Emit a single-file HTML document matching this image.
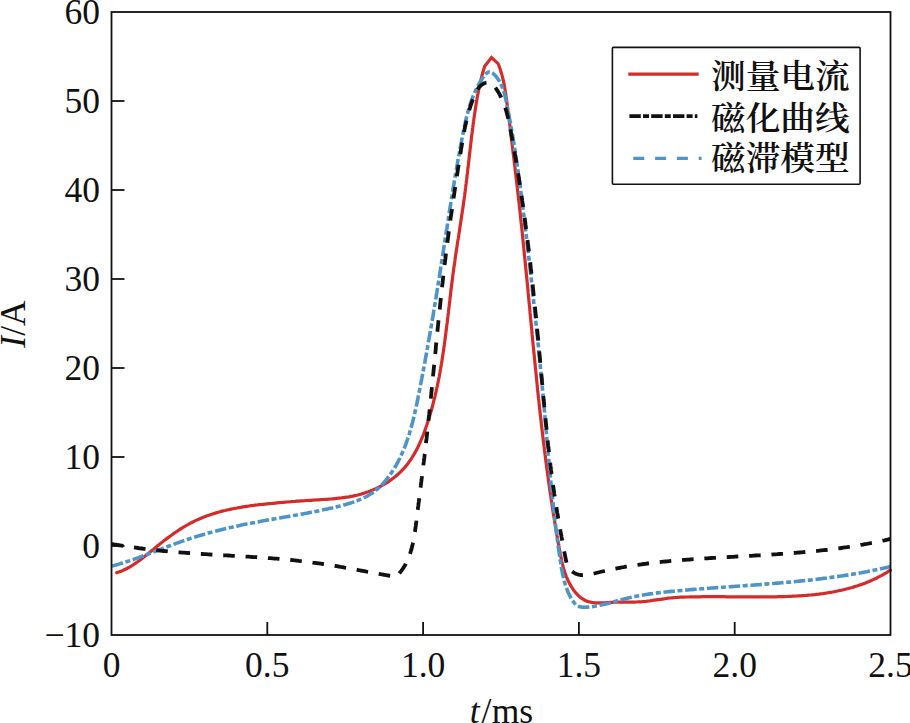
<!DOCTYPE html>
<html><head><meta charset="utf-8"><title>chart</title>
<style>
html,body{margin:0;padding:0;background:#fff;}
body{width:910px;height:723px;overflow:hidden;}
svg{display:block;}
.num{font-family:"Liberation Serif","Noto Serif CJK SC",serif;font-size:35.5px;fill:#111;}
.cjk{font-family:"Liberation Serif","Noto Serif CJK SC",serif;font-size:34.7px;font-weight:600;fill:#111;}
</style></head><body>
<svg width="910" height="723" viewBox="0 0 910 723">
<rect width="910" height="723" fill="#fff"/>
<g fill="none" stroke-linejoin="round">
<path d="M116.7 572.8 L118.6 572.1 L120.5 571.4 L122.4 570.7 L124.2 569.8 L126.0 569.0 L127.8 568.0 L129.5 567.1 L131.2 566.1 L132.9 565.0 L134.6 563.9 L136.2 562.8 L137.8 561.7 L139.5 560.5 L141.1 559.3 L142.6 558.1 L144.2 556.8 L145.8 555.6 L147.4 554.3 L148.9 553.1 L150.5 551.8 L152.0 550.5 L153.6 549.2 L155.1 547.9 L156.7 546.6 L158.3 545.4 L159.8 544.1 L161.4 542.8 L163.0 541.6 L164.6 540.3 L166.2 539.1 L167.8 537.9 L169.4 536.7 L171.1 535.5 L172.7 534.3 L174.3 533.1 L176.0 532.0 L177.7 530.9 L179.3 529.8 L181.0 528.7 L182.7 527.6 L184.4 526.6 L186.1 525.6 L187.9 524.6 L189.6 523.6 L191.4 522.7 L193.2 521.8 L194.9 520.9 L196.7 520.1 L198.6 519.2 L200.4 518.5 L202.2 517.7 L204.1 517.0 L205.9 516.2 L207.8 515.6 L209.7 514.9 L211.6 514.3 L213.5 513.7 L215.4 513.1 L217.3 512.5 L219.2 512.0 L221.2 511.4 L223.1 510.9 L225.1 510.5 L227.0 510.0 L229.0 509.6 L231.0 509.1 L233.0 508.7 L234.9 508.3 L236.9 508.0 L238.9 507.6 L240.9 507.3 L242.9 506.9 L244.9 506.6 L246.9 506.3 L249.0 506.0 L251.0 505.7 L253.0 505.5 L255.0 505.2 L257.0 505.0 L259.0 504.7 L261.0 504.5 L263.1 504.3 L265.1 504.1 L267.1 503.9 L269.1 503.7 L271.1 503.5 L273.1 503.3 L275.1 503.1 L277.1 502.9 L279.1 502.7 L281.1 502.5 L283.1 502.3 L285.1 502.2 L287.1 502.0 L289.1 501.8 L291.1 501.7 L293.1 501.5 L295.1 501.4 L297.0 501.2 L299.0 501.1 L301.0 500.9 L303.0 500.8 L305.0 500.7 L307.0 500.5 L309.0 500.4 L311.0 500.3 L313.0 500.1 L315.0 500.0 L317.0 499.9 L319.0 499.8 L321.0 499.6 L323.0 499.5 L325.0 499.4 L327.0 499.3 L329.0 499.1 L331.0 499.0 L333.0 498.8 L335.0 498.6 L337.0 498.4 L339.0 498.2 L341.0 498.0 L343.0 497.7 L345.0 497.4 L347.0 497.1 L349.0 496.8 L350.9 496.4 L352.9 496.1 L354.9 495.6 L356.8 495.2 L358.8 494.7 L360.7 494.2 L362.7 493.6 L364.6 493.0 L366.5 492.3 L368.4 491.7 L370.3 491.0 L372.2 490.2 L374.1 489.4 L375.9 488.6 L377.7 487.7 L379.6 486.8 L381.3 485.9 L383.1 484.9 L384.8 483.9 L386.6 482.8 L388.2 481.8 L389.9 480.6 L391.5 479.5 L393.1 478.3 L394.7 477.1 L396.2 475.8 L397.7 474.5 L399.2 473.2 L400.6 471.8 L402.0 470.4 L403.4 469.0 L404.7 467.5 L405.9 466.0 L407.2 464.4 L408.4 462.9 L409.5 461.3 L410.7 459.7 L411.8 458.0 L412.8 456.3 L413.9 454.6 L414.8 452.9 L415.8 451.1 L416.8 449.4 L417.7 447.6 L418.6 445.8 L419.4 443.9 L420.2 442.1 L421.1 440.2 L421.8 438.4 L422.6 436.5 L423.4 434.6 L424.1 432.7 L424.8 430.8 L425.5 428.9 L426.1 426.9 L426.8 425.0 L427.4 423.1 L428.1 421.1 L428.7 419.2 L429.3 417.3 L429.9 415.3 L430.4 413.4 L431.0 411.4 L431.6 409.5 L432.1 407.5 L432.6 405.6 L433.1 403.6 L433.6 401.7 L434.1 399.7 L434.6 397.8 L435.1 395.8 L435.5 393.9 L436.0 391.9 L436.4 389.9 L436.9 388.0 L437.3 386.0 L437.7 384.1 L438.1 382.1 L438.5 380.1 L438.9 378.2 L439.3 376.2 L439.6 374.2 L440.0 372.2 L440.3 370.3 L440.7 368.3 L441.0 366.3 L441.4 364.3 L441.7 362.4 L442.0 360.4 L442.3 358.4 L442.6 356.4 L442.9 354.5 L443.2 352.5 L443.5 350.5 L443.8 348.5 L444.1 346.5 L444.4 344.5 L444.6 342.6 L444.9 340.6 L445.2 338.6 L445.4 336.6 L445.7 334.6 L445.9 332.6 L446.2 330.6 L446.4 328.6 L446.7 326.6 L446.9 324.7 L447.2 322.7 L447.4 320.7 L447.6 318.7 L447.9 316.7 L448.1 314.7 L448.4 312.7 L448.6 310.7 L448.8 308.7 L449.1 306.7 L449.3 304.7 L449.5 302.7 L449.8 300.7 L450.0 298.8 L450.2 296.8 L450.5 294.8 L450.7 292.8 L450.9 290.8 L451.2 288.8 L451.4 286.8 L451.7 284.8 L451.9 282.8 L452.2 280.8 L452.4 278.8 L452.7 276.8 L452.9 274.8 L453.2 272.8 L453.5 270.8 L453.7 268.8 L454.0 266.9 L454.3 264.9 L454.6 262.9 L454.9 260.9 L455.1 258.9 L455.4 256.9 L455.7 254.9 L456.0 252.9 L456.3 250.9 L456.6 248.9 L456.9 246.9 L457.2 245.0 L457.5 243.0 L457.8 241.0 L458.2 239.0 L458.5 237.0 L458.8 235.0 L459.1 233.0 L459.4 231.0 L459.7 229.0 L460.0 227.0 L460.3 225.0 L460.6 223.1 L460.9 221.1 L461.2 219.1 L461.5 217.1 L461.8 215.1 L462.1 213.1 L462.4 211.1 L462.7 209.1 L463.0 207.1 L463.3 205.1 L463.6 203.1 L463.8 201.2 L464.1 199.2 L464.4 197.2 L464.7 195.2 L464.9 193.2 L465.2 191.2 L465.4 189.2 L465.7 187.2 L465.9 185.2 L466.2 183.2 L466.4 181.2 L466.7 179.2 L466.9 177.2 L467.1 175.2 L467.4 173.2 L467.6 171.3 L467.8 169.3 L468.1 167.3 L468.3 165.3 L468.5 163.3 L468.8 161.3 L469.0 159.3 L469.2 157.3 L469.4 155.3 L469.7 153.3 L469.9 151.3 L470.1 149.3 L470.4 147.3 L470.6 145.3 L470.8 143.3 L471.1 141.3 L471.3 139.3 L471.5 137.3 L471.8 135.3 L472.0 133.4 L472.3 131.4 L472.5 129.4 L472.8 127.4 L473.0 125.4 L473.3 123.4 L473.6 121.4 L473.8 119.4 L474.1 117.4 L474.4 115.4 L474.7 113.4 L475.0 111.4 L475.3 109.4 L475.6 107.5 L475.9 105.5 L476.2 103.5 L476.5 101.5 L476.9 99.5 L477.2 97.5 L477.6 95.5 L478.0 93.6 L478.3 91.6 L478.7 89.6 L479.1 87.7 L479.6 85.7 L480.0 83.7 L480.5 81.8 L480.9 79.8 L481.4 77.9 L481.9 75.9 L482.4 74.0 L483.0 72.1 L483.5 70.1 L484.1 68.2 L484.7 66.3 L491.5 57.6 L498.1 63.6 L498.9 65.5 L499.6 67.4 L500.2 69.3 L500.8 71.2 L501.4 73.2 L502.0 75.1 L502.5 77.0 L502.9 79.0 L503.4 80.9 L503.8 82.9 L504.2 84.9 L504.6 86.8 L504.9 88.8 L505.2 90.8 L505.5 92.8 L505.8 94.7 L506.1 96.7 L506.4 98.7 L506.7 100.7 L506.9 102.7 L507.2 104.7 L507.4 106.7 L507.7 108.7 L507.9 110.7 L508.2 112.7 L508.4 114.6 L508.7 116.6 L508.9 118.6 L509.2 120.6 L509.5 122.6 L509.7 124.6 L510.0 126.6 L510.2 128.6 L510.4 130.6 L510.7 132.6 L510.9 134.6 L511.2 136.6 L511.4 138.6 L511.7 140.6 L511.9 142.5 L512.2 144.5 L512.4 146.5 L512.7 148.5 L512.9 150.5 L513.1 152.5 L513.4 154.5 L513.6 156.5 L513.9 158.5 L514.1 160.5 L514.3 162.5 L514.6 164.5 L514.8 166.5 L515.1 168.5 L515.3 170.5 L515.5 172.5 L515.8 174.5 L516.0 176.5 L516.2 178.5 L516.5 180.4 L516.7 182.4 L516.9 184.4 L517.2 186.4 L517.4 188.4 L517.6 190.4 L517.8 192.4 L518.1 194.4 L518.3 196.4 L518.5 198.4 L518.7 200.4 L519.0 202.4 L519.2 204.4 L519.4 206.4 L519.6 208.4 L519.9 210.4 L520.1 212.4 L520.3 214.4 L520.5 216.4 L520.7 218.4 L520.9 220.4 L521.1 222.4 L521.4 224.4 L521.6 226.4 L521.8 228.4 L522.0 230.4 L522.2 232.4 L522.4 234.4 L522.6 236.4 L522.8 238.4 L523.0 240.4 L523.2 242.4 L523.4 244.4 L523.6 246.4 L523.8 248.4 L524.0 250.4 L524.2 252.4 L524.4 254.4 L524.6 256.4 L524.8 258.4 L525.0 260.4 L525.2 262.4 L525.4 264.4 L525.6 266.4 L525.8 268.4 L526.0 270.4 L526.2 272.4 L526.4 274.4 L526.6 276.4 L526.8 278.4 L527.0 280.4 L527.2 282.4 L527.4 284.4 L527.6 286.4 L527.8 288.4 L528.0 290.4 L528.1 292.4 L528.3 294.4 L528.5 296.4 L528.7 298.4 L528.9 300.4 L529.1 302.4 L529.3 304.4 L529.5 306.4 L529.7 308.4 L529.9 310.4 L530.0 312.4 L530.2 314.4 L530.4 316.4 L530.6 318.4 L530.8 320.4 L531.0 322.4 L531.2 324.4 L531.4 326.4 L531.6 328.4 L531.8 330.4 L532.0 332.4 L532.1 334.4 L532.3 336.4 L532.5 338.4 L532.7 340.4 L532.9 342.4 L533.1 344.4 L533.3 346.4 L533.5 348.4 L533.7 350.4 L533.9 352.4 L534.1 354.4 L534.3 356.4 L534.5 358.4 L534.7 360.4 L534.9 362.4 L535.1 364.4 L535.3 366.4 L535.5 368.4 L535.7 370.4 L535.9 372.4 L536.1 374.4 L536.3 376.4 L536.5 378.4 L536.7 380.4 L536.9 382.4 L537.1 384.4 L537.3 386.4 L537.5 388.4 L537.7 390.4 L537.9 392.4 L538.1 394.4 L538.3 396.4 L538.5 398.4 L538.8 400.4 L539.0 402.3 L539.2 404.3 L539.4 406.3 L539.6 408.3 L539.8 410.3 L540.1 412.3 L540.3 414.3 L540.5 416.3 L540.7 418.3 L541.0 420.3 L541.2 422.3 L541.4 424.3 L541.6 426.3 L541.9 428.3 L542.1 430.3 L542.3 432.3 L542.6 434.3 L542.8 436.3 L543.0 438.3 L543.3 440.3 L543.5 442.3 L543.8 444.3 L544.0 446.2 L544.3 448.2 L544.5 450.2 L544.8 452.2 L545.0 454.2 L545.3 456.2 L545.5 458.2 L545.8 460.2 L546.0 462.2 L546.3 464.2 L546.5 466.2 L546.8 468.2 L547.1 470.2 L547.3 472.1 L547.6 474.1 L547.9 476.1 L548.2 478.1 L548.4 480.1 L548.7 482.1 L549.0 484.1 L549.3 486.1 L549.5 488.1 L549.8 490.1 L550.1 492.0 L550.4 494.0 L550.7 496.0 L551.0 498.0 L551.3 500.0 L551.6 502.0 L551.9 504.0 L552.2 506.0 L552.5 507.9 L552.8 509.9 L553.1 511.9 L553.4 513.9 L553.7 515.9 L554.1 517.9 L554.4 519.8 L554.7 521.8 L555.0 523.8 L555.4 525.8 L555.7 527.8 L556.0 529.8 L556.4 531.7 L556.7 533.7 L557.0 535.7 L557.4 537.7 L557.7 539.7 L558.1 541.7 L558.4 543.6 L558.8 545.6 L559.1 547.6 L559.5 549.6 L559.9 551.6 L560.2 553.5 L560.6 555.5 L561.0 557.5 L561.4 559.5 L561.8 561.4 L562.3 563.4 L562.8 565.3 L563.3 567.3 L563.8 569.2 L564.4 571.1 L565.0 573.0 L565.7 574.9 L566.4 576.8 L567.2 578.7 L568.0 580.5 L568.9 582.3 L569.9 584.1 L570.9 585.9 L572.0 587.7 L573.1 589.4 L574.3 591.1 L575.6 592.7 L577.0 594.2 L578.4 595.6 L579.9 597.0 L581.4 598.2 L583.0 599.2 L584.7 600.2 L586.4 600.9 L588.2 601.6 L590.0 602.0 L591.9 602.4 L593.9 602.7 L595.8 602.8 L597.8 602.9 L599.9 602.9 L601.9 602.9 L604.0 602.8 L606.0 602.7 L608.1 602.5 L610.2 602.4 L612.2 602.3 L614.3 602.2 L616.3 602.1 L618.4 602.1 L620.4 602.1 L622.4 602.1 L624.4 602.1 L626.4 602.1 L628.4 602.1 L630.4 602.1 L632.4 602.1 L634.3 602.1 L636.3 602.0 L638.3 601.9 L640.3 601.8 L642.3 601.7 L644.2 601.5 L646.2 601.3 L648.2 601.0 L650.2 600.8 L652.2 600.5 L654.2 600.2 L656.2 599.9 L658.2 599.6 L660.2 599.3 L662.2 599.1 L664.2 598.8 L666.2 598.5 L668.2 598.2 L670.2 598.0 L672.2 597.8 L674.2 597.6 L676.2 597.5 L678.2 597.3 L680.2 597.2 L682.2 597.1 L684.2 597.1 L686.2 597.0 L688.2 597.0 L690.2 596.9 L692.2 596.9 L694.2 596.8 L696.2 596.8 L698.2 596.8 L700.2 596.8 L702.2 596.7 L704.2 596.7 L706.2 596.7 L708.3 596.7 L710.3 596.7 L712.3 596.7 L714.3 596.7 L716.3 596.7 L718.3 596.7 L720.3 596.7 L722.3 596.7 L724.3 596.7 L726.4 596.8 L728.4 596.8 L730.4 596.8 L732.4 596.8 L734.4 596.8 L736.4 596.8 L738.4 596.8 L740.4 596.9 L742.4 596.9 L744.4 596.9 L746.4 596.9 L748.5 596.9 L750.5 596.9 L752.5 596.9 L754.5 596.9 L756.5 596.9 L758.5 596.9 L760.5 596.9 L762.5 596.9 L764.5 596.9 L766.5 596.9 L768.5 596.9 L770.5 596.9 L772.5 596.9 L774.5 596.8 L776.5 596.8 L778.5 596.7 L780.5 596.7 L782.5 596.6 L784.5 596.6 L786.5 596.5 L788.5 596.4 L790.5 596.3 L792.5 596.2 L794.6 596.1 L796.6 596.0 L798.6 595.9 L800.6 595.8 L802.6 595.6 L804.6 595.5 L806.6 595.3 L808.6 595.1 L810.6 595.0 L812.6 594.8 L814.6 594.6 L816.6 594.3 L818.7 594.1 L820.7 593.8 L822.6 593.6 L824.6 593.3 L826.6 593.0 L828.6 592.7 L830.6 592.3 L832.6 592.0 L834.6 591.6 L836.5 591.2 L838.5 590.8 L840.5 590.4 L842.4 590.0 L844.4 589.5 L846.3 589.0 L848.3 588.5 L850.2 588.0 L852.1 587.5 L854.0 586.9 L855.9 586.3 L857.8 585.7 L859.7 585.0 L861.6 584.4 L863.5 583.7 L865.4 583.0 L867.2 582.2 L869.1 581.5 L870.9 580.7 L872.7 579.9 L874.6 579.0 L876.4 578.2 L878.2 577.2 L879.9 576.3 L881.7 575.4 L883.5 574.4 L885.2 573.3 L887.0 572.3 L888.7 571.2 L890.4 570.1" stroke="#d62b2b" stroke-width="3.2" stroke-linecap="round" stroke-linejoin="miter"/>
<path d="M111.9 566.1 L113.8 565.6 L115.8 565.0 L117.7 564.5 L119.6 563.9 L121.6 563.3 L123.5 562.7 L125.4 562.1 L127.3 561.5 L129.2 560.9 L131.1 560.2 L133.0 559.6 L134.9 558.9 L136.8 558.2 L138.7 557.6 L140.5 556.9 L142.4 556.2 L144.3 555.5 L146.2 554.8 L148.0 554.1 L149.9 553.4 L151.8 552.7 L153.6 551.9 L155.5 551.2 L157.4 550.5 L159.2 549.8 L161.1 549.1 L163.0 548.4 L164.8 547.6 L166.7 546.9 L168.6 546.2 L170.5 545.5 L172.3 544.8 L174.2 544.1 L176.1 543.4 L178.0 542.8 L179.8 542.1 L181.7 541.4 L183.6 540.8 L185.5 540.1 L187.4 539.5 L189.3 538.8 L191.2 538.2 L193.1 537.6 L195.1 537.0 L197.0 536.4 L198.9 535.8 L200.8 535.3 L202.7 534.7 L204.7 534.1 L206.6 533.6 L208.5 533.0 L210.5 532.5 L212.4 532.0 L214.4 531.5 L216.3 531.0 L218.2 530.5 L220.2 530.0 L222.1 529.5 L224.1 529.0 L226.1 528.6 L228.0 528.1 L230.0 527.6 L231.9 527.2 L233.9 526.7 L235.8 526.3 L237.8 525.9 L239.8 525.5 L241.7 525.0 L243.7 524.6 L245.7 524.2 L247.6 523.8 L249.6 523.4 L251.5 523.1 L253.5 522.7 L255.5 522.3 L257.4 521.9 L259.4 521.6 L261.4 521.2 L263.3 520.8 L265.3 520.5 L267.2 520.1 L269.2 519.8 L271.2 519.4 L273.1 519.1 L275.1 518.8 L277.1 518.4 L279.0 518.1 L281.0 517.7 L282.9 517.4 L284.9 517.0 L286.9 516.7 L288.8 516.4 L290.8 516.0 L292.8 515.7 L294.7 515.3 L296.7 515.0 L298.6 514.6 L300.6 514.3 L302.6 513.9 L304.5 513.5 L306.5 513.2 L308.5 512.8 L310.4 512.4 L312.4 512.0 L314.4 511.7 L316.3 511.3 L318.3 510.9 L320.3 510.5 L322.2 510.0 L324.2 509.6 L326.2 509.2 L328.1 508.8 L330.1 508.3 L332.1 507.9 L334.1 507.4 L336.0 506.9 L338.0 506.4 L340.0 505.9 L341.9 505.4 L343.9 504.9 L345.9 504.4 L347.8 503.8 L349.8 503.2 L351.7 502.6 L353.6 502.0 L355.5 501.3 L357.4 500.6 L359.2 499.8 L361.1 499.1 L362.9 498.3 L364.7 497.4 L366.4 496.5 L368.1 495.5 L369.8 494.5 L371.5 493.5 L373.1 492.4 L374.7 491.2 L376.3 490.0 L377.8 488.7 L379.2 487.4 L380.7 486.0 L382.1 484.6 L383.4 483.1 L384.7 481.6 L386.0 480.1 L387.3 478.5 L388.5 476.9 L389.7 475.3 L390.9 473.6 L392.0 471.9 L393.1 470.3 L394.1 468.6 L395.2 466.8 L396.2 465.1 L397.1 463.4 L398.1 461.6 L399.0 459.8 L399.9 458.0 L400.7 456.2 L401.6 454.4 L402.4 452.6 L403.2 450.8 L403.9 449.0 L404.7 447.1 L405.4 445.3 L406.1 443.4 L406.7 441.5 L407.4 439.6 L408.0 437.8 L408.7 435.9 L409.3 434.0 L409.8 432.0 L410.4 430.1 L411.0 428.2 L411.5 426.3 L412.0 424.3 L412.5 422.4 L413.0 420.5 L413.5 418.5 L414.0 416.6 L414.4 414.6 L414.9 412.6 L415.3 410.7 L415.8 408.7 L416.2 406.7 L416.6 404.8 L417.0 402.8 L417.4 400.8 L417.8 398.8 L418.2 396.9 L418.6 394.9 L419.0 392.9 L419.4 390.9 L419.8 388.9 L420.1 387.0 L420.5 385.0 L420.9 383.0 L421.3 381.0 L421.7 379.1 L422.0 377.1 L422.4 375.1 L422.8 373.1 L423.2 371.2 L423.5 369.2 L423.9 367.2 L424.3 365.2 L424.6 363.3 L425.0 361.3 L425.3 359.3 L425.7 357.4 L426.1 355.4 L426.4 353.4 L426.8 351.4 L427.1 349.5 L427.5 347.5 L427.8 345.5 L428.2 343.6 L428.5 341.6 L428.9 339.6 L429.2 337.6 L429.6 335.7 L429.9 333.7 L430.3 331.7 L430.6 329.8 L430.9 327.8 L431.3 325.8 L431.6 323.8 L431.9 321.9 L432.3 319.9 L432.6 317.9 L433.0 316.0 L433.3 314.0 L433.6 312.0 L433.9 310.0 L434.3 308.1 L434.6 306.1 L434.9 304.1 L435.2 302.2 L435.6 300.2 L435.9 298.2 L436.2 296.2 L436.5 294.3 L436.9 292.3 L437.2 290.3 L437.5 288.3 L437.8 286.4 L438.1 284.4 L438.4 282.4 L438.8 280.4 L439.1 278.5 L439.4 276.5 L439.7 274.5 L440.0 272.5 L440.3 270.6 L440.6 268.6 L440.9 266.6 L441.3 264.6 L441.6 262.6 L441.9 260.7 L442.2 258.7 L442.5 256.7 L442.8 254.7 L443.1 252.7 L443.4 250.8 L443.7 248.8 L444.0 246.8 L444.3 244.8 L444.6 242.8 L444.9 240.9 L445.2 238.9 L445.5 236.9 L445.8 234.9 L446.1 232.9 L446.4 230.9 L446.8 229.0 L447.1 227.0 L447.4 225.0 L447.7 223.0 L448.0 221.0 L448.3 219.1 L448.6 217.1 L448.9 215.1 L449.2 213.1 L449.5 211.1 L449.8 209.1 L450.2 207.2 L450.5 205.2 L450.8 203.2 L451.1 201.2 L451.4 199.2 L451.7 197.3 L452.1 195.3 L452.4 193.3 L452.7 191.3 L453.0 189.3 L453.3 187.4 L453.7 185.4 L454.0 183.4 L454.3 181.4 L454.7 179.4 L455.0 177.5 L455.3 175.5 L455.7 173.5 L456.0 171.5 L456.4 169.6 L456.7 167.6 L457.0 165.6 L457.4 163.6 L457.7 161.7 L458.1 159.7 L458.4 157.7 L458.8 155.7 L459.2 153.8 L459.5 151.8 L459.9 149.8 L460.2 147.9 L460.6 145.9 L461.0 143.9 L461.4 142.0 L461.7 140.0 L462.1 138.0 L462.5 136.1 L462.9 134.1 L463.3 132.1 L463.7 130.2 L464.1 128.2 L464.5 126.3 L464.9 124.3 L465.3 122.3 L465.8 120.4 L466.2 118.5 L466.7 116.5 L467.2 114.6 L467.7 112.7 L468.2 110.7 L468.8 108.8 L469.4 106.9 L470.0 105.0 L470.6 103.1 L471.2 101.2 L471.9 99.3 L472.6 97.4 L473.4 95.6 L474.2 93.7 L475.0 91.9 L475.8 90.0 L476.7 88.2 L477.7 86.4 L478.6 84.6 L479.6 82.8 L480.7 81.0 L481.8 79.3 L483.0 77.5 L484.2 75.8 L485.4 74.3 L486.7 73.1 L488.1 72.3 L489.5 72.0 L491.0 72.3 L492.5 73.1 L494.0 74.3 L495.5 75.8 L496.9 77.5 L498.1 79.3 L499.3 81.1 L500.3 82.9 L501.2 84.8 L502.0 86.6 L502.8 88.5 L503.4 90.4 L504.0 92.4 L504.6 94.3 L505.1 96.2 L505.5 98.2 L506.0 100.1 L506.4 102.1 L506.8 104.1 L507.2 106.0 L507.5 108.0 L507.9 110.0 L508.3 111.9 L508.7 113.9 L509.1 115.9 L509.4 117.8 L509.8 119.8 L510.2 121.8 L510.5 123.7 L510.9 125.7 L511.2 127.7 L511.6 129.7 L511.9 131.6 L512.2 133.6 L512.6 135.6 L512.9 137.5 L513.2 139.5 L513.6 141.5 L513.9 143.5 L514.2 145.5 L514.5 147.4 L514.8 149.4 L515.1 151.4 L515.4 153.4 L515.7 155.3 L516.0 157.3 L516.3 159.3 L516.6 161.3 L516.9 163.3 L517.2 165.3 L517.5 167.2 L517.8 169.2 L518.1 171.2 L518.3 173.2 L518.6 175.2 L518.9 177.2 L519.2 179.1 L519.4 181.1 L519.7 183.1 L520.0 185.1 L520.2 187.1 L520.5 189.1 L520.7 191.1 L521.0 193.0 L521.3 195.0 L521.5 197.0 L521.8 199.0 L522.0 201.0 L522.3 203.0 L522.5 205.0 L522.8 207.0 L523.0 209.0 L523.3 210.9 L523.5 212.9 L523.8 214.9 L524.0 216.9 L524.2 218.9 L524.5 220.9 L524.7 222.9 L525.0 224.9 L525.2 226.9 L525.4 228.8 L525.7 230.8 L525.9 232.8 L526.2 234.8 L526.4 236.8 L526.6 238.8 L526.9 240.8 L527.1 242.8 L527.3 244.8 L527.6 246.8 L527.8 248.8 L528.0 250.7 L528.3 252.7 L528.5 254.7 L528.7 256.7 L529.0 258.7 L529.2 260.7 L529.4 262.7 L529.6 264.7 L529.9 266.7 L530.1 268.7 L530.3 270.7 L530.5 272.6 L530.8 274.6 L531.0 276.6 L531.2 278.6 L531.4 280.6 L531.7 282.6 L531.9 284.6 L532.1 286.6 L532.3 288.6 L532.5 290.6 L532.8 292.6 L533.0 294.6 L533.2 296.5 L533.4 298.5 L533.6 300.5 L533.8 302.5 L534.0 304.5 L534.3 306.5 L534.5 308.5 L534.7 310.5 L534.9 312.5 L535.1 314.5 L535.3 316.5 L535.5 318.5 L535.7 320.5 L535.9 322.5 L536.2 324.4 L536.4 326.4 L536.6 328.4 L536.8 330.4 L537.0 332.4 L537.2 334.4 L537.4 336.4 L537.6 338.4 L537.8 340.4 L538.0 342.4 L538.2 344.4 L538.4 346.4 L538.6 348.4 L538.8 350.4 L539.0 352.4 L539.2 354.4 L539.4 356.4 L539.6 358.3 L539.8 360.3 L540.0 362.3 L540.2 364.3 L540.3 366.3 L540.5 368.3 L540.7 370.3 L540.9 372.3 L541.1 374.3 L541.3 376.3 L541.5 378.3 L541.7 380.3 L541.9 382.3 L542.0 384.3 L542.2 386.3 L542.4 388.3 L542.6 390.3 L542.8 392.3 L543.0 394.3 L543.1 396.3 L543.3 398.3 L543.5 400.3 L543.7 402.2 L543.9 404.2 L544.0 406.2 L544.2 408.2 L544.4 410.2 L544.6 412.2 L544.7 414.2 L544.9 416.2 L545.1 418.2 L545.3 420.2 L545.4 422.2 L545.6 424.2 L545.8 426.2 L546.0 428.2 L546.1 430.2 L546.3 432.2 L546.5 434.2 L546.7 436.2 L546.8 438.2 L547.0 440.2 L547.2 442.2 L547.4 444.2 L547.5 446.2 L547.7 448.2 L547.9 450.2 L548.1 452.2 L548.2 454.2 L548.4 456.2 L548.6 458.2 L548.8 460.2 L549.0 462.1 L549.1 464.1 L549.3 466.1 L549.5 468.1 L549.7 470.1 L549.9 472.1 L550.1 474.1 L550.3 476.1 L550.5 478.1 L550.7 480.1 L550.8 482.1 L551.0 484.1 L551.2 486.1 L551.4 488.1 L551.6 490.1 L551.8 492.1 L552.0 494.1 L552.3 496.1 L552.5 498.0 L552.7 500.0 L552.9 502.0 L553.1 504.0 L553.3 506.0 L553.5 508.0 L553.8 510.0 L554.0 512.0 L554.2 514.0 L554.4 516.0 L554.7 518.0 L554.9 519.9 L555.1 521.9 L555.4 523.9 L555.6 525.9 L555.8 527.9 L556.1 529.9 L556.3 531.9 L556.6 533.9 L556.9 535.8 L557.1 537.8 L557.4 539.8 L557.6 541.8 L557.9 543.8 L558.2 545.8 L558.4 547.8 L558.7 549.7 L559.0 551.7 L559.3 553.7 L559.6 555.7 L559.9 557.7 L560.2 559.7 L560.5 561.6 L560.8 563.6 L561.1 565.6 L561.4 567.6 L561.8 569.6 L562.1 571.5 L562.5 573.5 L562.9 575.4 L563.4 577.4 L563.8 579.3 L564.3 581.3 L564.9 583.2 L565.5 585.1 L566.1 587.0 L566.8 588.9 L567.5 590.8 L568.3 592.7 L569.2 594.6 L570.1 596.4 L571.1 598.3 L572.1 600.0 L573.3 601.7 L574.5 603.2 L575.9 604.5 L577.4 605.6 L579.0 606.4 L580.9 606.9 L582.8 607.2 L584.8 607.2 L586.8 607.1 L588.9 607.0 L590.9 606.7 L593.0 606.5 L595.0 606.2 L597.0 605.8 L599.0 605.5 L601.0 605.0 L603.0 604.6 L604.9 604.2 L606.9 603.7 L608.8 603.2 L610.8 602.7 L612.7 602.2 L614.7 601.6 L616.6 601.1 L618.5 600.6 L620.4 600.1 L622.4 599.5 L624.3 599.0 L626.2 598.5 L628.2 598.0 L630.1 597.6 L632.0 597.1 L634.0 596.7 L635.9 596.3 L637.9 595.9 L639.9 595.6 L641.8 595.2 L643.8 594.9 L645.8 594.5 L647.7 594.2 L649.7 593.9 L651.7 593.7 L653.7 593.4 L655.7 593.1 L657.7 592.9 L659.6 592.7 L661.6 592.4 L663.6 592.2 L665.6 592.0 L667.6 591.8 L669.6 591.6 L671.6 591.4 L673.6 591.2 L675.6 591.0 L677.6 590.8 L679.6 590.7 L681.6 590.5 L683.6 590.3 L685.6 590.1 L687.6 590.0 L689.6 589.8 L691.6 589.6 L693.6 589.4 L695.6 589.3 L697.6 589.1 L699.6 589.0 L701.6 588.8 L703.6 588.7 L705.6 588.5 L707.6 588.3 L709.6 588.2 L711.6 588.0 L713.6 587.9 L715.6 587.7 L717.6 587.6 L719.6 587.5 L721.6 587.3 L723.6 587.2 L725.6 587.0 L727.6 586.9 L729.6 586.7 L731.6 586.6 L733.6 586.5 L735.6 586.3 L737.6 586.2 L739.6 586.0 L741.6 585.9 L743.6 585.7 L745.6 585.6 L747.6 585.4 L749.6 585.3 L751.6 585.2 L753.6 585.0 L755.6 584.9 L757.6 584.7 L759.6 584.6 L761.6 584.4 L763.6 584.3 L765.6 584.1 L767.6 583.9 L769.6 583.8 L771.6 583.6 L773.6 583.5 L775.6 583.3 L777.5 583.1 L779.5 583.0 L781.5 582.8 L783.5 582.6 L785.5 582.4 L787.5 582.3 L789.5 582.1 L791.5 581.9 L793.5 581.7 L795.5 581.5 L797.5 581.3 L799.5 581.1 L801.5 580.9 L803.5 580.7 L805.4 580.5 L807.4 580.3 L809.4 580.1 L811.4 579.9 L813.4 579.6 L815.4 579.4 L817.4 579.2 L819.4 578.9 L821.3 578.7 L823.3 578.4 L825.3 578.2 L827.3 577.9 L829.3 577.7 L831.3 577.4 L833.2 577.1 L835.2 576.9 L837.2 576.6 L839.2 576.3 L841.2 576.0 L843.1 575.7 L845.1 575.4 L847.1 575.1 L849.1 574.8 L851.1 574.5 L853.0 574.1 L855.0 573.8 L857.0 573.5 L858.9 573.1 L860.9 572.8 L862.9 572.4 L864.9 572.0 L866.8 571.7 L868.8 571.3 L870.8 570.9 L872.7 570.5 L874.7 570.1 L876.7 569.7 L878.6 569.3 L880.6 568.8 L882.6 568.4 L884.5 568.0 L886.5 567.5 L888.4 567.1 L890.4 566.6" stroke="#4d95c9" stroke-width="3.6" stroke-dasharray="11.5 2.6 5 2.7" stroke-linecap="butt"/>
<path d="M111.9 543.9 L113.9 544.3 L115.9 544.6 L117.9 545.0 L119.9 545.3 L121.9 545.6 L123.9 545.9 L125.9 546.3 L127.8 546.6 L129.8 546.9 L131.8 547.2 L133.8 547.4 L135.8 547.7 L137.8 548.0 L139.8 548.3 L141.8 548.5 L143.8 548.8 L145.8 549.0 L147.8 549.3 L149.8 549.5 L151.8 549.7 L153.8 550.0 L155.9 550.2 L157.9 550.4 L159.9 550.6 L161.9 550.8 L163.9 551.0 L165.9 551.2 L167.9 551.4 L169.9 551.6 L171.9 551.7 L173.9 551.9 L175.9 552.1 L177.9 552.3 L179.9 552.4 L182.0 552.6 L184.0 552.7 L186.0 552.9 L188.0 553.0 L190.0 553.2 L192.0 553.3 L194.0 553.5 L196.0 553.6 L198.1 553.7 L200.1 553.9 L202.1 554.0 L204.1 554.1 L206.1 554.2 L208.1 554.4 L210.1 554.5 L212.2 554.6 L214.2 554.7 L216.2 554.8 L218.2 554.9 L220.2 555.1 L222.2 555.2 L224.3 555.3 L226.3 555.4 L228.3 555.5 L230.3 555.6 L232.3 555.8 L234.3 555.9 L236.4 556.0 L238.4 556.1 L240.4 556.2 L242.4 556.3 L244.4 556.5 L246.4 556.6 L248.5 556.7 L250.5 556.8 L252.5 557.0 L254.5 557.1 L256.5 557.2 L258.5 557.4 L260.6 557.5 L262.6 557.7 L264.6 557.8 L266.6 557.9 L268.6 558.1 L270.6 558.2 L272.6 558.4 L274.6 558.6 L276.7 558.7 L278.7 558.9 L280.7 559.1 L282.7 559.3 L284.7 559.4 L286.7 559.6 L288.7 559.8 L290.7 560.0 L292.7 560.2 L294.7 560.4 L296.7 560.6 L298.7 560.9 L300.7 561.1 L302.8 561.3 L304.8 561.6 L306.8 561.8 L308.8 562.1 L310.8 562.3 L312.8 562.6 L314.8 562.8 L316.8 563.1 L318.7 563.4 L320.7 563.7 L322.7 564.0 L324.7 564.3 L326.7 564.6 L328.7 564.9 L330.7 565.2 L332.7 565.5 L334.7 565.9 L336.7 566.2 L338.7 566.5 L340.7 566.9 L342.6 567.2 L344.6 567.6 L346.6 567.9 L348.6 568.3 L350.6 568.6 L352.6 569.0 L354.6 569.4 L356.5 569.7 L358.5 570.1 L360.5 570.5 L362.5 570.8 L364.5 571.2 L366.5 571.6 L368.5 571.9 L370.4 572.3 L372.4 572.7 L374.4 573.0 L376.4 573.4 L378.4 573.8 L380.4 574.1 L382.4 574.5 L384.4 574.8 L386.3 575.2 L388.3 575.5 L390.3 575.8 L392.3 576.2 L394.3 576.5 L396.3 576.8 L397.7 575.3 L399.1 573.8 L400.3 572.2 L401.5 570.6 L402.6 569.0 L403.7 567.4 L404.7 565.7 L405.7 564.0 L406.5 562.2 L407.4 560.5 L408.2 558.7 L408.9 556.9 L409.6 555.1 L410.2 553.2 L410.8 551.3 L411.4 549.4 L411.9 547.5 L412.4 545.6 L412.8 543.7 L413.2 541.7 L413.6 539.8 L414.0 537.8 L414.3 535.8 L414.7 533.8 L415.0 531.8 L415.2 529.8 L415.5 527.8 L415.8 525.8 L416.0 523.8 L416.3 521.8 L416.5 519.7 L416.8 517.7 L417.0 515.7 L417.3 513.7 L417.5 511.7 L417.8 509.7 L418.0 507.7 L418.3 505.7 L418.5 503.7 L418.8 501.7 L419.0 499.7 L419.3 497.7 L419.5 495.7 L419.8 493.7 L420.0 491.7 L420.3 489.7 L420.5 487.7 L420.8 485.8 L421.0 483.8 L421.3 481.8 L421.5 479.8 L421.8 477.8 L422.0 475.8 L422.3 473.9 L422.5 471.9 L422.8 469.9 L423.0 467.9 L423.3 465.9 L423.5 463.9 L423.8 462.0 L424.0 460.0 L424.3 458.0 L424.5 456.0 L424.7 454.0 L425.0 452.1 L425.2 450.1 L425.4 448.1 L425.7 446.1 L425.9 444.1 L426.1 442.1 L426.3 440.1 L426.6 438.2 L426.8 436.2 L427.0 434.2 L427.2 432.2 L427.4 430.2 L427.7 428.2 L427.9 426.2 L428.1 424.2 L428.3 422.2 L428.5 420.3 L428.7 418.3 L428.9 416.3 L429.2 414.3 L429.4 412.3 L429.6 410.3 L429.8 408.3 L430.0 406.3 L430.2 404.3 L430.4 402.3 L430.6 400.4 L430.8 398.4 L431.0 396.4 L431.2 394.4 L431.4 392.4 L431.6 390.4 L431.8 388.4 L432.0 386.4 L432.2 384.4 L432.4 382.4 L432.6 380.4 L432.8 378.4 L433.0 376.4 L433.2 374.4 L433.4 372.4 L433.6 370.5 L433.8 368.5 L434.0 366.5 L434.2 364.5 L434.4 362.5 L434.6 360.5 L434.8 358.5 L435.0 356.5 L435.2 354.5 L435.4 352.5 L435.6 350.5 L435.8 348.5 L435.9 346.5 L436.1 344.5 L436.3 342.5 L436.5 340.5 L436.7 338.5 L436.9 336.5 L437.1 334.5 L437.3 332.5 L437.5 330.5 L437.7 328.5 L437.9 326.6 L438.1 324.6 L438.3 322.6 L438.5 320.6 L438.7 318.6 L439.0 316.6 L439.2 314.6 L439.4 312.6 L439.6 310.6 L439.8 308.6 L440.0 306.6 L440.2 304.6 L440.4 302.6 L440.6 300.6 L440.8 298.6 L441.0 296.6 L441.3 294.6 L441.5 292.6 L441.7 290.6 L441.9 288.7 L442.1 286.7 L442.3 284.7 L442.6 282.7 L442.8 280.7 L443.0 278.7 L443.2 276.7 L443.5 274.7 L443.7 272.7 L443.9 270.7 L444.2 268.7 L444.4 266.7 L444.6 264.7 L444.9 262.7 L445.1 260.8 L445.4 258.8 L445.6 256.8 L445.8 254.8 L446.1 252.8 L446.3 250.8 L446.6 248.8 L446.8 246.8 L447.1 244.8 L447.3 242.8 L447.6 240.9 L447.9 238.9 L448.1 236.9 L448.4 234.9 L448.6 232.9 L448.9 230.9 L449.2 228.9 L449.5 226.9 L449.7 225.0 L450.0 223.0 L450.3 221.0 L450.5 219.0 L450.8 217.0 L451.1 215.0 L451.4 213.1 L451.7 211.1 L452.0 209.1 L452.2 207.1 L452.5 205.1 L452.8 203.1 L453.1 201.2 L453.4 199.2 L453.7 197.2 L454.0 195.2 L454.3 193.2 L454.6 191.3 L454.9 189.3 L455.2 187.3 L455.5 185.3 L455.8 183.3 L456.1 181.4 L456.4 179.4 L456.7 177.4 L457.0 175.4 L457.3 173.5 L457.6 171.5 L457.9 169.5 L458.2 167.5 L458.5 165.6 L458.8 163.6 L459.1 161.6 L459.5 159.6 L459.8 157.7 L460.1 155.7 L460.4 153.7 L460.7 151.7 L461.0 149.8 L461.3 147.8 L461.7 145.8 L462.0 143.9 L462.3 141.9 L462.7 139.9 L463.0 138.0 L463.3 136.0 L463.7 134.0 L464.1 132.1 L464.4 130.1 L464.8 128.1 L465.2 126.2 L465.7 124.2 L466.1 122.3 L466.5 120.3 L467.0 118.4 L467.5 116.4 L468.0 114.5 L468.6 112.6 L469.1 110.6 L469.7 108.7 L470.3 106.8 L470.9 104.8 L471.6 102.9 L472.3 101.0 L473.0 99.1 L473.8 97.2 L474.6 95.3 L475.4 93.4 L476.3 91.5 L477.3 89.8 L478.4 88.1 L479.6 86.7 L481.0 85.3 L482.5 84.2 L484.3 83.3 L486.2 82.7 L488.2 82.5 L490.0 82.9 L491.7 83.8 L493.2 85.0 L494.5 86.6 L495.8 88.2 L496.9 89.9 L498.0 91.6 L499.1 93.4 L500.0 95.1 L500.9 96.9 L501.8 98.7 L502.6 100.5 L503.4 102.4 L504.1 104.2 L504.7 106.1 L505.4 108.0 L505.9 109.9 L506.5 111.8 L507.0 113.8 L507.5 115.7 L508.0 117.6 L508.4 119.6 L508.8 121.6 L509.3 123.5 L509.7 125.5 L510.0 127.5 L510.4 129.5 L510.8 131.4 L511.2 133.4 L511.5 135.4 L511.9 137.4 L512.3 139.3 L512.6 141.3 L513.0 143.3 L513.3 145.3 L513.7 147.2 L514.0 149.2 L514.4 151.2 L514.7 153.2 L515.1 155.2 L515.4 157.1 L515.8 159.1 L516.1 161.1 L516.4 163.1 L516.7 165.1 L517.1 167.0 L517.4 169.0 L517.7 171.0 L518.0 173.0 L518.4 175.0 L518.7 176.9 L519.0 178.9 L519.3 180.9 L519.6 182.9 L519.9 184.9 L520.2 186.9 L520.5 188.8 L520.8 190.8 L521.1 192.8 L521.4 194.8 L521.7 196.8 L522.0 198.7 L522.2 200.7 L522.5 202.7 L522.8 204.7 L523.1 206.7 L523.4 208.7 L523.6 210.6 L523.9 212.6 L524.2 214.6 L524.5 216.6 L524.7 218.6 L525.0 220.6 L525.3 222.6 L525.5 224.5 L525.8 226.5 L526.0 228.5 L526.3 230.5 L526.5 232.5 L526.8 234.5 L527.0 236.5 L527.3 238.4 L527.5 240.4 L527.8 242.4 L528.0 244.4 L528.3 246.4 L528.5 248.4 L528.8 250.4 L529.0 252.4 L529.2 254.3 L529.5 256.3 L529.7 258.3 L529.9 260.3 L530.2 262.3 L530.4 264.3 L530.6 266.3 L530.8 268.3 L531.1 270.3 L531.3 272.2 L531.5 274.2 L531.7 276.2 L531.9 278.2 L532.2 280.2 L532.4 282.2 L532.6 284.2 L532.8 286.2 L533.0 288.2 L533.2 290.2 L533.4 292.2 L533.6 294.1 L533.8 296.1 L534.1 298.1 L534.3 300.1 L534.5 302.1 L534.7 304.1 L534.9 306.1 L535.1 308.1 L535.3 310.1 L535.5 312.1 L535.7 314.1 L535.9 316.1 L536.1 318.1 L536.3 320.1 L536.5 322.0 L536.7 324.0 L536.8 326.0 L537.0 328.0 L537.2 330.0 L537.4 332.0 L537.6 334.0 L537.8 336.0 L538.0 338.0 L538.2 340.0 L538.4 342.0 L538.6 344.0 L538.7 346.0 L538.9 348.0 L539.1 350.0 L539.3 352.0 L539.5 354.0 L539.7 356.0 L539.9 358.0 L540.0 360.0 L540.2 362.0 L540.4 364.0 L540.6 366.0 L540.8 368.0 L541.0 370.0 L541.1 371.9 L541.3 373.9 L541.5 375.9 L541.7 377.9 L541.9 379.9 L542.0 381.9 L542.2 383.9 L542.4 385.9 L542.6 387.9 L542.8 389.9 L543.0 391.9 L543.1 393.9 L543.3 395.9 L543.5 397.9 L543.7 399.9 L543.9 401.9 L544.1 403.9 L544.2 405.9 L544.4 407.9 L544.6 409.9 L544.8 411.9 L545.0 413.9 L545.2 415.9 L545.4 417.9 L545.6 419.9 L545.8 421.9 L546.0 423.9 L546.2 425.9 L546.4 427.9 L546.6 429.9 L546.8 431.9 L547.0 433.9 L547.2 435.9 L547.4 437.9 L547.6 439.9 L547.8 441.9 L548.0 443.9 L548.2 445.8 L548.5 447.8 L548.7 449.8 L548.9 451.8 L549.1 453.8 L549.4 455.8 L549.6 457.8 L549.8 459.8 L550.1 461.8 L550.3 463.8 L550.5 465.7 L550.8 467.7 L551.0 469.7 L551.3 471.7 L551.5 473.7 L551.8 475.7 L552.0 477.6 L552.3 479.6 L552.6 481.6 L552.8 483.6 L553.1 485.6 L553.4 487.5 L553.7 489.5 L554.0 491.5 L554.2 493.5 L554.5 495.4 L554.8 497.4 L555.1 499.4 L555.4 501.3 L555.7 503.3 L556.0 505.3 L556.4 507.2 L556.7 509.2 L557.0 511.2 L557.3 513.1 L557.7 515.1 L558.0 517.1 L558.3 519.0 L558.7 521.0 L559.0 523.0 L559.4 524.9 L559.7 526.9 L560.1 528.9 L560.4 530.9 L560.8 532.8 L561.2 534.8 L561.5 536.8 L561.9 538.8 L562.3 540.8 L562.6 542.8 L563.0 544.7 L563.4 546.7 L563.8 548.7 L564.1 550.8 L564.5 552.8 L564.9 554.8 L565.3 556.8 L565.7 558.8 L566.1 560.8 L566.6 562.8 L567.2 564.7 L567.9 566.5 L568.9 568.2 L570.0 569.7 L571.4 571.0 L573.0 572.2 L574.7 573.2 L576.5 574.0 L578.5 574.6 L580.4 575.0 L582.4 575.2 L584.3 575.2 L586.3 575.1 L588.3 574.8 L590.2 574.4 L592.2 574.0 L594.2 573.5 L596.1 573.0 L598.1 572.5 L600.1 572.0 L602.0 571.5 L604.0 571.1 L606.0 570.6 L607.9 570.2 L609.9 569.8 L611.9 569.4 L613.9 569.0 L615.8 568.6 L617.8 568.2 L619.8 567.8 L621.8 567.4 L623.7 567.1 L625.7 566.7 L627.7 566.4 L629.7 566.1 L631.7 565.8 L633.6 565.4 L635.6 565.1 L637.6 564.9 L639.6 564.6 L641.6 564.3 L643.5 564.0 L645.5 563.8 L647.5 563.5 L649.5 563.3 L651.5 563.0 L653.5 562.8 L655.5 562.6 L657.4 562.3 L659.4 562.1 L661.4 561.9 L663.4 561.7 L665.4 561.5 L667.4 561.3 L669.4 561.1 L671.4 560.9 L673.4 560.8 L675.3 560.6 L677.3 560.4 L679.3 560.3 L681.3 560.1 L683.3 559.9 L685.3 559.8 L687.3 559.6 L689.3 559.5 L691.3 559.3 L693.3 559.2 L695.3 559.1 L697.3 558.9 L699.3 558.8 L701.3 558.6 L703.3 558.5 L705.3 558.4 L707.3 558.3 L709.3 558.1 L711.3 558.0 L713.3 557.9 L715.3 557.8 L717.3 557.7 L719.3 557.5 L721.3 557.4 L723.3 557.3 L725.3 557.2 L727.3 557.1 L729.3 557.0 L731.3 556.9 L733.3 556.8 L735.3 556.6 L737.3 556.5 L739.3 556.4 L741.3 556.3 L743.3 556.2 L745.3 556.1 L747.3 556.0 L749.4 555.9 L751.4 555.8 L753.4 555.6 L755.4 555.5 L757.4 555.4 L759.4 555.3 L761.4 555.2 L763.4 555.1 L765.4 554.9 L767.4 554.8 L769.4 554.7 L771.4 554.6 L773.4 554.4 L775.4 554.3 L777.4 554.2 L779.4 554.0 L781.4 553.9 L783.4 553.8 L785.4 553.6 L787.4 553.5 L789.4 553.3 L791.4 553.2 L793.4 553.0 L795.4 552.9 L797.4 552.7 L799.4 552.5 L801.4 552.4 L803.4 552.2 L805.4 552.0 L807.4 551.8 L809.4 551.6 L811.3 551.5 L813.3 551.3 L815.3 551.1 L817.3 550.9 L819.3 550.7 L821.3 550.4 L823.3 550.2 L825.3 550.0 L827.3 549.8 L829.3 549.5 L831.2 549.3 L833.2 549.0 L835.2 548.8 L837.2 548.5 L839.2 548.3 L841.2 548.0 L843.2 547.7 L845.1 547.4 L847.1 547.2 L849.1 546.9 L851.1 546.6 L853.0 546.3 L855.0 545.9 L857.0 545.6 L859.0 545.3 L860.9 544.9 L862.9 544.6 L864.9 544.2 L866.9 543.9 L868.8 543.5 L870.8 543.1 L872.8 542.8 L874.7 542.4 L876.7 542.0 L878.7 541.5 L880.6 541.1 L882.6 540.7 L884.5 540.3 L886.5 539.8 L888.4 539.4 L890.4 538.9" stroke="#111" stroke-width="3.8" stroke-dasharray="11.6 10.8" stroke-linecap="butt"/>
</g>
<g stroke="#111" stroke-width="1.8" fill="none">
<rect x="111.5" y="12" width="779" height="623"/>
<line x1="267.3" y1="635" x2="267.3" y2="622"/><line x1="423.1" y1="635" x2="423.1" y2="622"/><line x1="578.9" y1="635" x2="578.9" y2="622"/><line x1="734.7" y1="635" x2="734.7" y2="622"/><line x1="111.5" y1="546" x2="124.5" y2="546"/><line x1="111.5" y1="457" x2="124.5" y2="457"/><line x1="111.5" y1="368" x2="124.5" y2="368"/><line x1="111.5" y1="279" x2="124.5" y2="279"/><line x1="111.5" y1="190" x2="124.5" y2="190"/><line x1="111.5" y1="101" x2="124.5" y2="101"/>
</g>
<g class="num">
<text x="100" y="647" text-anchor="end">−10</text><text x="100" y="558" text-anchor="end">0</text><text x="100" y="469" text-anchor="end">10</text><text x="100" y="380" text-anchor="end">20</text><text x="100" y="291" text-anchor="end">30</text><text x="100" y="202" text-anchor="end">40</text><text x="100" y="113" text-anchor="end">50</text><text x="100" y="24" text-anchor="end">60</text>
</g>
<g class="num" text-anchor="middle">
<text x="111.5" y="677">0</text><text x="267.3" y="677">0.5</text><text x="423.1" y="677">1.0</text><text x="578.9" y="677">1.5</text><text x="734.7" y="677">2.0</text><text x="890.5" y="677">2.5</text>
</g>
<text class="num" transform="translate(24.5 324) rotate(-90)" text-anchor="middle"><tspan font-style="italic">I</tspan>/A</text>
<text class="num" x="469.8" y="723"><tspan font-style="italic">t</tspan><tspan dx="1.8">/</tspan><tspan dx="0.3">ms</tspan></text>
<rect x="612.4" y="47.4" width="247.7" height="136.9" fill="#fff" stroke="#111" stroke-width="1.6" rx="1"/>
<line x1="628.3" y1="74.1" x2="698.7" y2="74.1" stroke="#d62b2b" stroke-width="3.3"/>
<line x1="629.4" y1="116.2" x2="697.4" y2="116.2" stroke="#111" stroke-width="3.8" stroke-dasharray="11.4 2.2 6 2.2"/>
<line x1="633.3" y1="158.4" x2="701.6" y2="158.4" stroke="#4d95c9" stroke-width="3.3" stroke-dasharray="11 10.8"/>
<g class="cjk">
<text transform="translate(711 88.2) scale(1 0.94)">测量电流</text>
<text transform="translate(711 129.5) scale(1 0.94)">磁化曲线</text>
<text transform="translate(711 170.1) scale(1 0.94)">磁滞模型</text>
</g>
</svg>
</body></html>
